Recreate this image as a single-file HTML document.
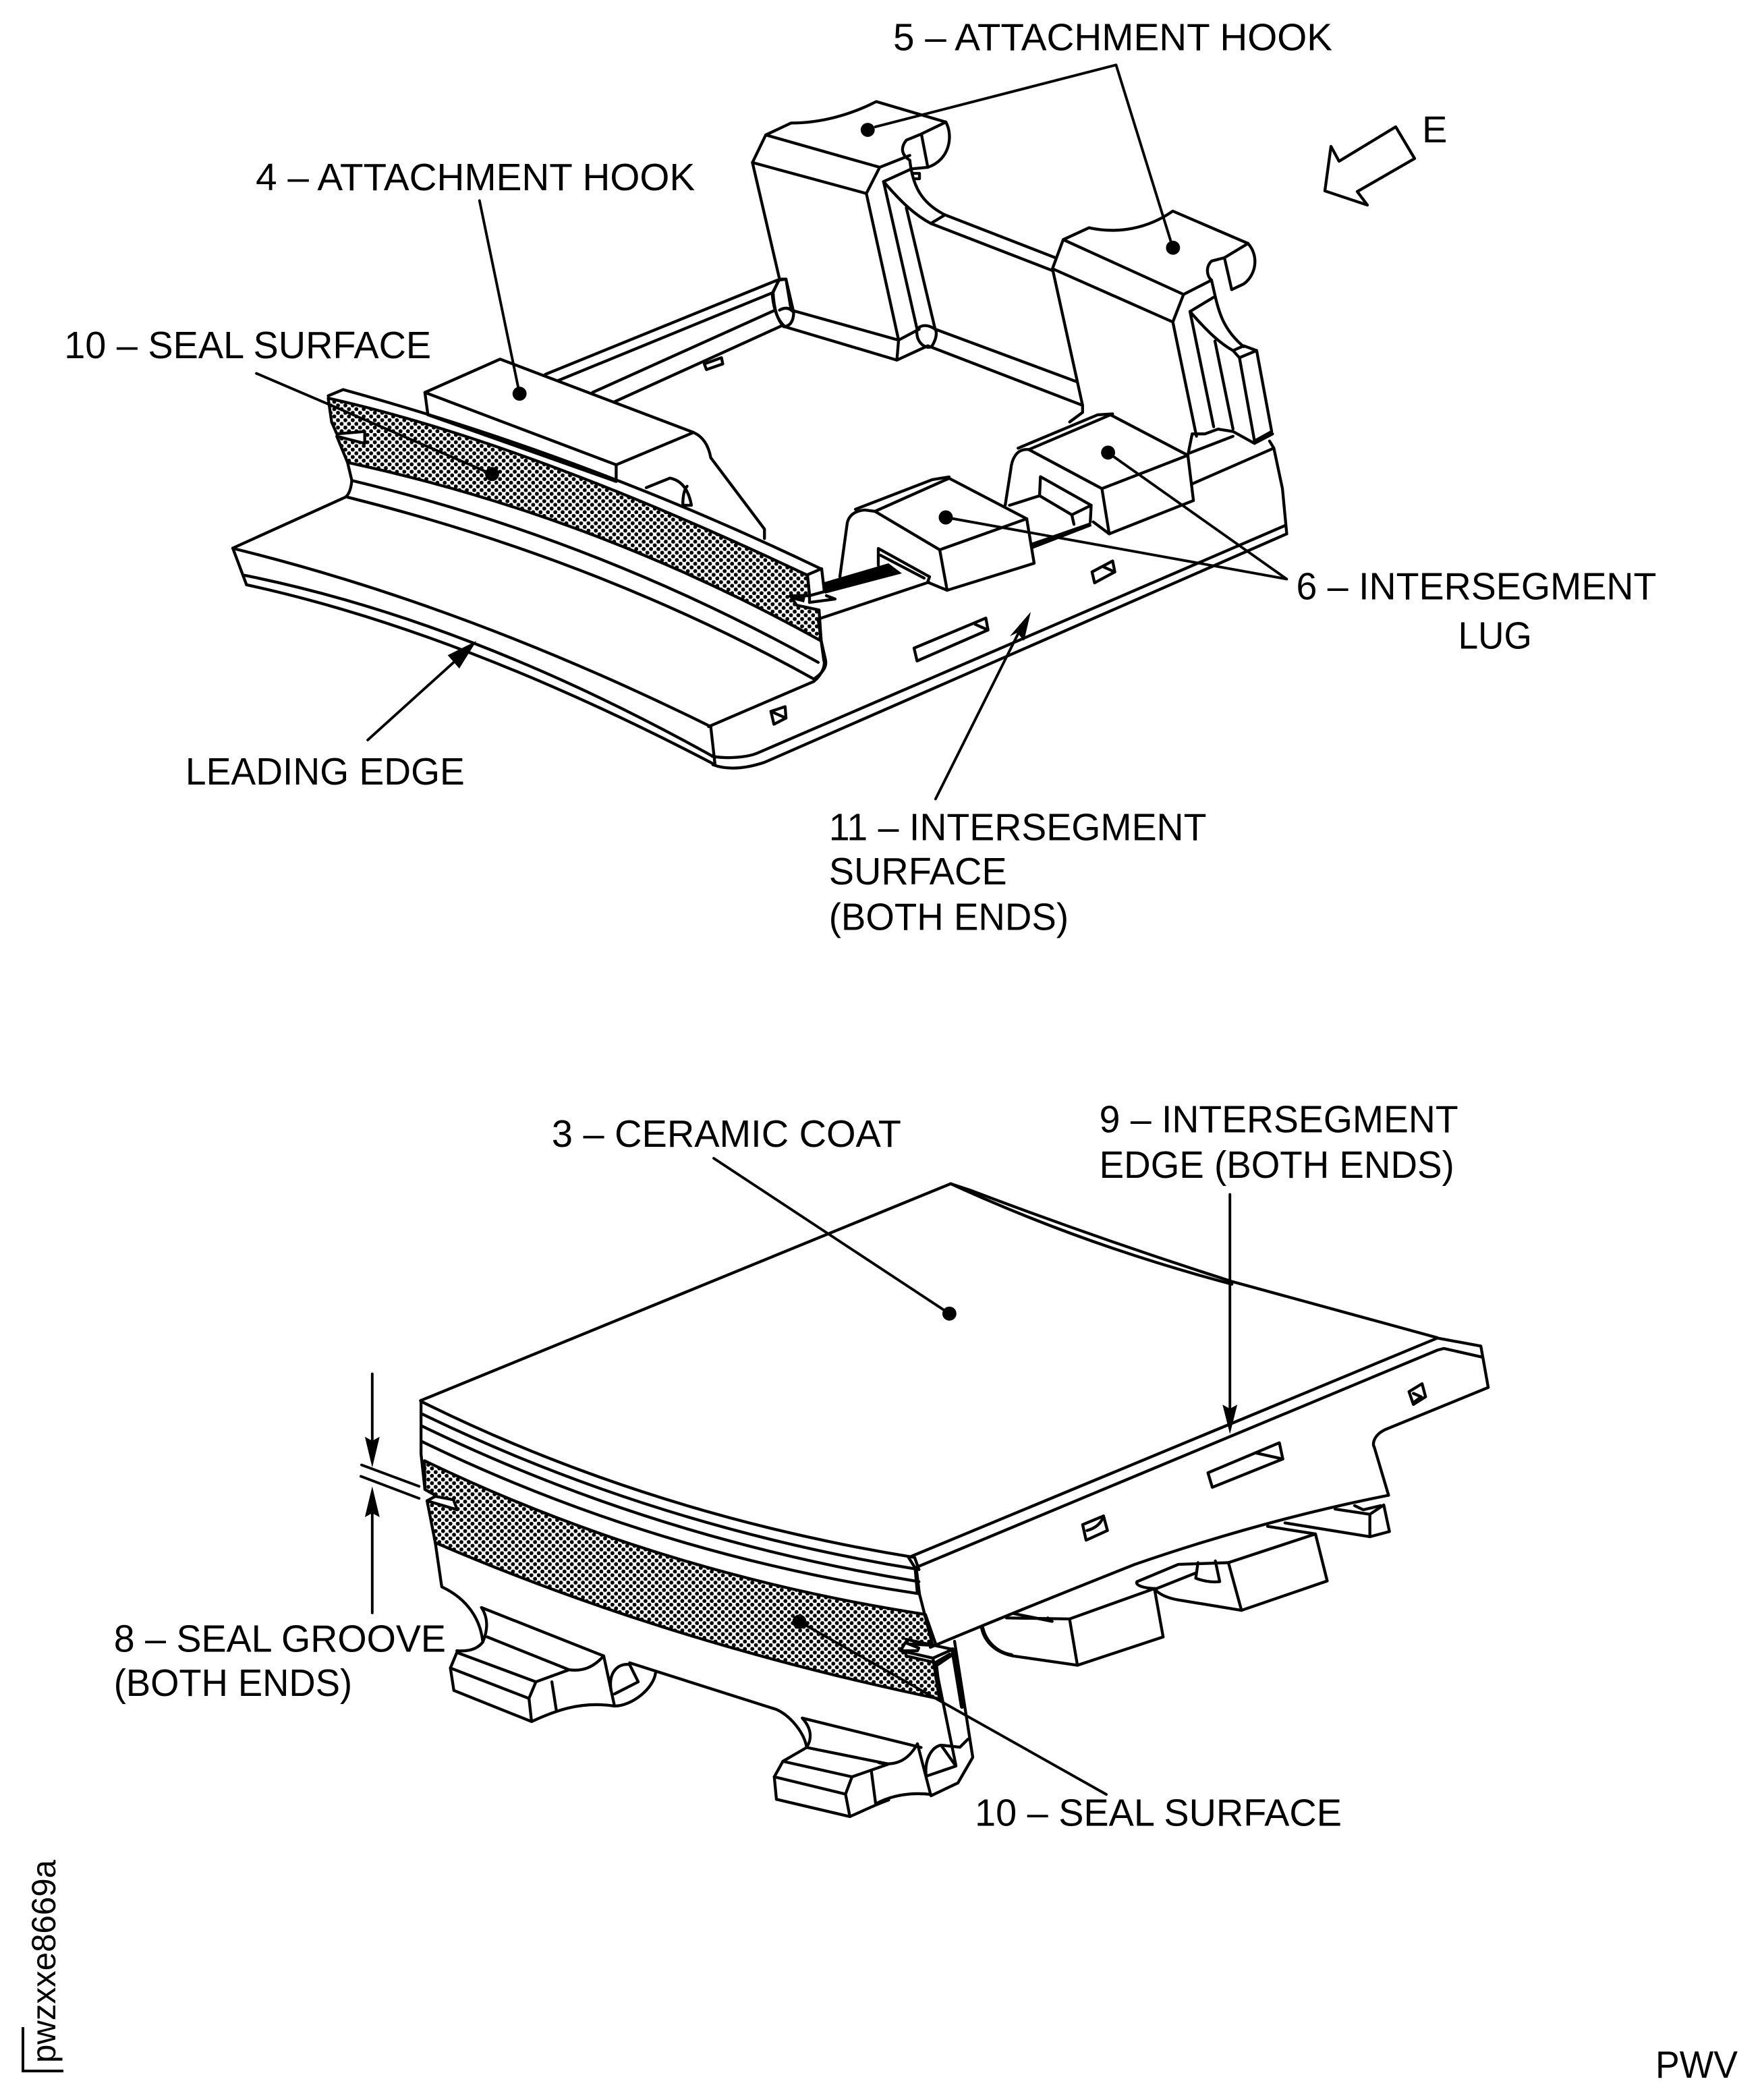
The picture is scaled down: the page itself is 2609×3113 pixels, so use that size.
<!DOCTYPE html>
<html><head><meta charset="utf-8"><style>
html,body{margin:0;padding:0;background:#fff;width:2609px;height:3113px;overflow:hidden}
svg{display:block}
path,polyline,polygon,line{vector-effect:non-scaling-stroke;stroke-linejoin:round;stroke-linecap:round}
text{font-family:"Liberation Sans",sans-serif;font-size:57px;fill:#000}
.s{fill:none;stroke:#000;stroke-width:4.3}
.l{fill:none;stroke:#000;stroke-width:3.9}
.k{fill:#000;stroke:none}
</style></head><body>
<svg width="2609" height="3113" viewBox="0 0 2609 3113" xmlns="http://www.w3.org/2000/svg">
<defs>
<pattern id="ht" patternUnits="userSpaceOnUse" width="11" height="11" patternTransform="scale(1.558,1.406)"><rect width="11" height="11" fill="#fff"/><circle cx="2.75" cy="2.75" r="3" fill="#000"/><circle cx="8.25" cy="8.25" r="3" fill="#000"/></pattern>
<pattern id="hb" patternUnits="userSpaceOnUse" width="11" height="11" patternTransform="scale(1.55,1.938)"><rect width="11" height="11" fill="#fff"/><circle cx="2.75" cy="2.75" r="3" fill="#000"/><circle cx="8.25" cy="8.25" r="3" fill="#000"/></pattern>
</defs>
<rect width="2609" height="3113" fill="#fff"/>

<g transform="scale(.9925)">
<!-- TOP left frame -->
<g transform="translate(304 97) scale(.642 .711)">
<path d="M290 700Q753 794 1405 1072L1410 1115L1365 1115L1380 1135L1432 1145L1437 1210Q914 948 335 835L310 780L375 795L375 770L310 775L298 750Z" fill="url(#ht)" stroke="#000" stroke-width="4.3"/>
<g class="s">
<path d="M75 1017Q613 1137 1180 1390"/>
<path d="M95 1072Q618 1167 1190 1455"/>
<path d="M100 1092Q595 1189 1190 1470"/>
<path d="M68 1015L100 1092"/>
<path d="M68 1015L330 908Q342 900 345 873L335 835"/>
<path d="M335 908Q923 1041 1420 1290Q1452 1270 1447 1250L1437 1210"/>
<path d="M345 873Q913 996 1430 1255"/>
<path d="M290 695L325 682Q902 826 1435 1058"/>
<path d="M1180 1390L1190 1470"/>
<path d="M515 688L690 618L1140 772L960 840Z"/>
<path d="M515 688L522 735L960 875L960 840"/>
<path d="M1140 772Q1172 785 1180 825L1305 975L1305 995"/>
<path d="M1030 888L1085 868Q1125 875 1135 925L1115 925Q1115 895 1125 885"/>
<path d="M795 650L1335 452"/>
<path d="M825 663L1325 478"/>
<path d="M905 688L1330 515"/>
<path d="M955 708L1345 548"/>
<path d="M1325 478L1338 452L1355 450L1373 520Q1372 548 1350 550Q1328 530 1325 478"/>
<path d="M1340 515Q1360 505 1373 520"/>
<path d="M1165 628L1205 615L1208 628L1170 640Z"/>
</g>
<g class="l">
<path d="M642 285L735 690"/>
<path d="M123 648L672 860"/>
<path d="M382 1418L610 1232"/>
</g>
<polygon class="k" points="635,1210 568,1240 595,1268"/>
</g>

<!-- TOP right frame -->
<g transform="translate(1007 97) scale(.642 .711)">
<g class="s">
<path d="M213 147L272 122C340 122 410 105 470 77L632 120C650 150 640 200 590 215L555 218"/>
<path d="M213 147L478 215L548 190"/>
<path d="M632 120L575 145L540 158C525 175 530 190 548 200C555 255 575 290 630 315L887 405"/>
<path d="M575 145L590 215"/>
<path d="M213 147L182 205L447 270L478 215"/>
<path d="M182 205L245 450L260 450L272 515L522 578L518 620L258 550Q232 530 228 480L245 450"/>
<path d="M447 270L522 578L570 555"/>
<path d="M518 620L590 590"/>
<path d="M487 245L565 555"/>
<path d="M540 300L607 555"/>
<path d="M487 245L548 220"/>
<path d="M487 245C530 290 560 315 597 333L880 432"/>
<path d="M597 333L630 315"/>
<path d="M565 555C560 585 590 600 600 590C610 575 612 562 607 555C590 545 575 545 565 555"/>
<path d="M607 555L935 665"/>
<path d="M590 590L950 715"/>

<path d="M905 367L965 342C1030 355 1100 345 1160 307L1335 375C1360 400 1355 440 1325 460L1297 472"/>
<path d="M905 367L1185 482L1250 452"/>
<path d="M1335 375L1280 405L1250 412C1235 425 1240 445 1250 452C1265 510 1270 550 1325 592"/>
<path d="M1280 405L1297 472"/>
<path d="M905 367L880 428L1160 540L1185 482"/>
<path d="M880 428L950 715L950 730L920 750"/>
<path d="M1160 540L1215 780"/>
<path d="M1200 518L1255 760"/>
<path d="M1200 518L1255 488"/>
<path d="M1200 518C1240 560 1270 585 1300 600"/>
<path d="M1258 580L1300 765"/>
<path d="M1300 600L1325 590L1355 600L1390 770L1350 790L1315 615L1300 600"/>
<path d="M1315 615L1355 600"/>
<path d="M1195 820L1205 775L1235 775L1265 765L1300 770L1350 795L1392 775"/>
<path d="M1200 815L1300 780"/>
<path d="M1205 880L1395 805L1415 890L1425 985"/>
<path d="M1385 790L1395 805"/>
<path d="M1420 968L195 1445C170 1455 120 1458 88 1452"/>
<path d="M1425 985L210 1465C160 1480 120 1480 90 1470"/>
<path d="M80 1390L325 1295C345 1280 352 1260 348 1250L335 1165"/>
<path d="M780 925L850 905L925 945L930 965"/>
<path d="M850 905L852 865L970 925L968 960"/>
<path d="M925 945L970 925"/>
<path d="M825 808L1015 735L1195 820L995 890Z"/>
<path d="M995 890L1012 985L1208 915L1195 820"/>
<path d="M825 808C795 805 785 830 783 850L770 925"/>
<path d="M800 805L985 735L1020 733"/>
<path d="M975 960L1012 985"/>
<path d="M558 1225L725 1162L730 1187L565 1252Z"/>
<path d="M700 1175L730 1187"/>
<path d="M972 1065L1020 1042L1025 1065L978 1088Z"/>
<path d="M1000 1055L1025 1065"/>
<path d="M225 1358L258 1348L260 1372L232 1385Z"/>
<path d="M225 1358L260 1372"/>
</g>
<g class="l">
<path d="M468 130L1028 0L1160 384"/>
<path d="M630 950L1425 1080L1010 815"/>
<path d="M608 1542L800 1195"/>
</g>
</g>

<!-- dots top -->
<g class="k">
<circle cx="1296" cy="194" r="10.5"/><circle cx="1752" cy="370" r="10.5"/><circle cx="776" cy="588" r="10.5"/><circle cx="735" cy="708" r="10.5"/><circle cx="1655" cy="676" r="10.5"/>
<circle cx="1418" cy="1962" r="10.5"/>
</g>

<!-- BOTTOM real coords -->
<g class="s">
<path d="M628 2092L1420 1768"/>
<path d="M1420 1768L1450 1778Q1640 1850 1840 1914Q2010 1960 2147 1998"/>
<path d="M1420 1768Q1620 1860 1840 1918"/>
</g>
<g class="l">
<path d="M1066 1730L1418 1962"/>
<path d="M1837 1784L1837 2120"/>
<path d="M556 2052L556 2170"/>
<path d="M556 2240L556 2409"/>
<path d="M540 2188L626 2220"/>
<path d="M539 2205L626 2238"/>
</g>
<g class="k">
<polygon points="1837,2142 1826,2098 1837,2104 1848,2098"/>
<polygon points="556,2192 545,2146 556,2152 567,2146"/>
<polygon points="556,2220 545,2266 556,2260 567,2266"/>
</g>

<!-- BOTTOM left frame -->
<g transform="translate(505 1965) scale(.645 .516)">
<path d="M200 420Q740 745 1360 865L1385 955L1315 950L1315 985L1385 1005L1395 1110Q760 945 225 657L206 536L276 562L267 533L225 523L221 517L201 503Z" fill="url(#hb)" stroke="#000" stroke-width="4.3"/>
<g class="s">
<path d="M192 245L192 400L201 503L221 517"/>
<path d="M206 536L225 523"/>
<path d="M195 250Q720 575 1335 700L1345 735"/>
<path d="M195 285Q730 610 1345 735"/>
<path d="M195 320Q730 645 1345 770"/>
<path d="M195 365Q730 690 1345 805"/>
<path d="M225 657L240 785C300 820 330 880 335 945C320 970 295 972 275 970"/>
<path d="M275 975L260 1020L268 1085L448 1175C500 1145 560 1115 640 1130L615 985C590 1020 565 1030 535 1025L345 930"/>
<path d="M332 845L615 985"/>
<path d="M275 975L458 1060L535 1025"/>
<path d="M260 1020L442 1108"/>
<path d="M458 1060L442 1108L448 1175"/>
<path d="M495 1060L505 1140"/>
<path d="M332 845C350 880 345 915 335 945"/>
<path d="M640 1130C680 1130 730 1080 735 1035"/>
<path d="M640 1095L695 1060L675 1010C650 1005 625 1030 632 1085"/>
<path d="M675 1005L1015 1140C1050 1160 1080 1210 1085 1250"/>
<path d="M1075 1165L1350 1250"/>
<path d="M1030 1290L1190 1335L1275 1298L1085 1250L1030 1290"/>
<path d="M1030 1290L1010 1335L1015 1400L1185 1450C1215 1434 1245 1415 1275 1402"/>
<path d="M1010 1335L1175 1385"/>
<path d="M1190 1335L1175 1385L1185 1450"/>
<path d="M1235 1320L1245 1415"/>
<path d="M1075 1165C1100 1200 1095 1230 1085 1250"/>
</g>
</g>

<!-- BOTTOM right frame -->
<g transform="translate(1305 1965) scale(.65 .516)">
<g class="s">
<path d="M80 700L1295 65L1395 88L1412 208L1175 330C1150 345 1145 370 1150 380L1183 520"/>
<path d="M95 730L1295 100L1310 95L1398 120"/>
<path d="M80 700L95 730L100 800"/>
<path d="M130 960Q320 860 600 720Q900 590 1183 520"/>
<path d="M768 455L932 368L940 415L778 497Z"/>
<path d="M880 398L940 415"/>
<path d="M480 605L528 580L537 622L488 650Z"/>
<path d="M490 622Q520 612 528 580"/>
<path d="M1230 220L1260 197L1268 235L1240 257Z"/>
<path d="M1240 225L1258 235L1242 250"/>
<path d="M450 878L645 790L665 930L468 1012Z"/>
<path d="M468 1012L320 985C280 975 255 945 248 905"/>
<path d="M305 875L450 878"/>
<path d="M320 862L410 885L400 875"/>
<path d="M605 770L700 720L815 715"/>
<path d="M605 770C600 780 620 790 650 790L740 745"/>
<path d="M745 715L740 760C760 770 780 772 795 770L785 710"/>
<path d="M815 715L1015 632L1042 768L845 853Z"/>
<path d="M845 853L710 825C680 820 660 810 648 795"/>
<path d="M905 610L1015 632"/>
<path d="M945 600L1140 640L1185 625L1172 548L1140 575L1140 640"/>
<path d="M1060 560L1140 575"/>
<path d="M1105 550L1125 562L1165 550"/>
</g>
</g>

<!-- text -->
<text x="1334" y="75" textLength="656" lengthAdjust="spacingAndGlyphs">5 – ATTACHMENT HOOK</text>
<text x="382" y="284" textLength="656" lengthAdjust="spacingAndGlyphs">4 – ATTACHMENT HOOK</text>
<text x="96" y="535" textLength="548" lengthAdjust="spacingAndGlyphs">10 – SEAL SURFACE</text>
<text x="277" y="1172" textLength="417" lengthAdjust="spacingAndGlyphs">LEADING EDGE</text>
<text x="1936" y="895" textLength="538" lengthAdjust="spacingAndGlyphs">6 – INTERSEGMENT</text>
<text x="2178" y="969" textLength="110" lengthAdjust="spacingAndGlyphs">LUG</text>
<text x="1238" y="1255" textLength="564" lengthAdjust="spacingAndGlyphs">11 – INTERSEGMENT</text>
<text x="1238" y="1321" textLength="266" lengthAdjust="spacingAndGlyphs">SURFACE</text>
<text x="1238" y="1389" textLength="358" lengthAdjust="spacingAndGlyphs">(BOTH ENDS)</text>
<text x="824" y="1713" textLength="522" lengthAdjust="spacingAndGlyphs">3 – CERAMIC COAT</text>
<text x="1642" y="1691" textLength="536" lengthAdjust="spacingAndGlyphs">9 – INTERSEGMENT</text>
<text x="1642" y="1759" textLength="530" lengthAdjust="spacingAndGlyphs">EDGE (BOTH ENDS)</text>
<text x="170" y="2467" textLength="496" lengthAdjust="spacingAndGlyphs">8 – SEAL GROOVE</text>
<text x="170" y="2533" textLength="356" lengthAdjust="spacingAndGlyphs">(BOTH ENDS)</text>
<text x="1456" y="2727" textLength="548" lengthAdjust="spacingAndGlyphs">10 – SEAL SURFACE</text>
</g>

<!-- exact real-coordinate details -->
<g class="s">
<!-- lug 1 -->
<path d="M1297 758L1407 709L1522 769"/>
<path d="M1297 758L1393 815L1522 769"/>
<path d="M1522 769L1533 835L1404 875L1393 815"/>
<path d="M1245 855L1256 775Q1260 758 1282 756L1297 758"/>
<path d="M1268 755L1382 711L1407 707"/>
<path d="M1302 838L1302 813L1378 855L1375 863"/>
<path d="M1305 823L1370 857"/>
<path d="M1375 863L1404 875"/>
<path d="M1215 917L1377 863"/>
<path d="M1197 852L1218 843L1222 877L1200 883Z"/>
<path d="M1200 893L1238 888L1225 883"/>
<path d="M1200 883L1200 893"/>
<!-- hook square -->
<path d="M1353 257L1363 257L1363 265L1355 265"/>
<!-- bottom right end -->
<path d="M1359 2330L1363 2363L1382 2437"/>
<path d="M1335 2447L1342 2435L1362 2443L1360 2447Z" style="fill:#fff"/>
<path d="M1343 2430L1412 2445L1383 2458L1340 2448"/>
<path d="M1383 2458L1392 2515"/>
<path d="M1387 2470L1412 2453"/>
<path d="M1386 2465L1408 2452"/>
<path d="M1387 2470L1417 2617"/>
<path d="M1415 2433L1442 2605L1420 2643L1380 2662L1360 2585"/>
<path d="M1373 2633L1417 2618L1395 2587C1380 2590 1370 2610 1373 2633"/>
<path d="M1395 2587L1423 2590L1435 2578"/>
<path d="M1412 2445L1426 2530" style="stroke-width:6"/>
<path d="M1360 2585C1345 2612 1325 2618 1303 2613"/>
<path d="M1300 2673Q1335 2655 1380 2660"/>
<path d="M1457 2413C1462 2435 1480 2450 1500 2453"/>
</g>
<g class="k">
<polygon points="1222,863 1317,835 1337,850 1223,880"/>
<polygon points="1528,805 1617,774 1618,780 1530,814"/>
<polygon points="1528,907 1518,950 1508,938 1497,943"/>
<circle cx="1402" cy="767" r="10.5"/>
<circle cx="1185" cy="2404" r="10.5"/>
<polygon points="1165,883 1195,880 1192,893 1180,890"/>
</g>
<g class="l">
<path d="M1185 2404L1640 2660"/>
</g>

<!-- E arrow -->
<polygon class="s" points="2069,188 2097,235 2012,284 2027,304 1964,283 1973,217 1985,239"/>
<text x="2108" y="211" style="font-size:56px">E</text>
<text x="2454" y="3080" textLength="122" lengthAdjust="spacingAndGlyphs">PWV</text>
<text transform="translate(82 3058) rotate(-90)" style="font-size:50px" textLength="301" lengthAdjust="spacingAndGlyphs">pwzxxe8669a</text>
<path d="M34 3005L34 3070L94 3070" fill="none" stroke="#000" stroke-width="4" style="stroke-linecap:butt;stroke-linejoin:miter"/>
</svg>
</body></html>
